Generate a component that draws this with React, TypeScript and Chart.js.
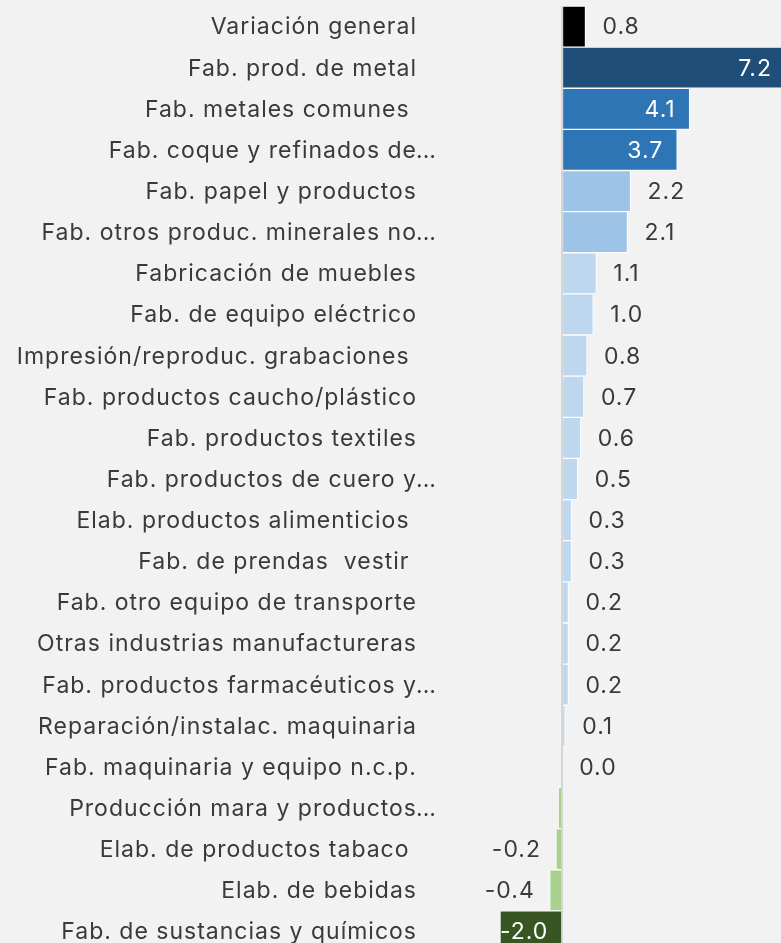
import React, { useEffect, useRef } from 'react';
import { Chart, registerables } from 'chart.js';

Chart.register(...registerables);

const categories: string[] = [
  'Variación general',
  'Fab. prod. de metal',
  'Fab. metales comunes ',
  'Fab. coque y refinados de...',
  'Fab. papel y productos',
  'Fab. otros produc. minerales no...',
  'Fabricación de muebles',
  'Fab. de equipo eléctrico',
  'Impresión/reproduc. grabaciones ',
  'Fab. productos caucho/plástico',
  'Fab. productos textiles',
  'Fab. productos de cuero y...',
  'Elab. productos alimenticios ',
  'Fab. de prendas  vestir ',
  'Fab. otro equipo de transporte',
  'Otras industrias manufactureras',
  'Fab. productos farmacéuticos y...',
  'Reparación/instalac. maquinaria',
  'Fab. maquinaria y equipo n.c.p.',
  'Producción mara y productos...',
  'Elab. de productos tabaco ',
  'Elab. de bebidas',
  'Fab. de sustancias y químicos',
];

const values: number[] = [
  0.75, 7.2, 4.1, 3.7, 2.2, 2.1, 1.1, 1.0, 0.8, 0.7, 0.6, 0.5, 0.3, 0.3, 0.2, 0.2, 0.2, 0.1, 0.0, -0.13, -0.2, -0.4, -2.0,
];

const valueLabels: string[] = [
  '0.8', '7.2', '4.1', '3.7', '2.2', '2.1', '1.1', '1.0', '0.8', '0.7', '0.6', '0.5', '0.3', '0.3', '0.2', '0.2', '0.2', '0.1', '0.0', '', '-0.2', '-0.4', '-2.0',
];

const barColors: string[] = [
  '#000000', '#1f4e79', '#2e75b6', '#2e75b6', '#9dc3e6', '#9dc3e6',
  '#bdd7ee', '#bdd7ee', '#bdd7ee', '#bdd7ee', '#bdd7ee', '#bdd7ee', '#bdd7ee', '#bdd7ee',
  '#bdd7ee', '#bdd7ee', '#bdd7ee', '#bdd7ee', '#bdd7ee',
  '#a9d18e', '#a9d18e', '#a9d18e', '#375623',
];

const FONT = '23px Inter';
const SPACING = '1px';
const TEXT = '#3a3a3a';

export default function App() {
  const ref = useRef<HTMLCanvasElement>(null);

  useEffect(() => {
    const canvas = ref.current;
    if (!canvas) return;

    const labelPlugin = {
      id: 'customLabels',
      afterDatasetsDraw(chart: any) {
        const ctx = chart.ctx;
        const yScale = chart.scales.y;
        const meta = chart.getDatasetMeta(0);
        const setSpacing = (s: string) => {
          try {
            (ctx as any).letterSpacing = s;
          } catch (e) {
            /* ignore */
          }
        };
        ctx.save();
        ctx.font = FONT;
        ctx.textBaseline = 'middle';
        const labelRight = yScale.right - 83;
        const dy = 1;
        categories.forEach((c, i) => {
          const y = yScale.getPixelForTick(i) + dy;
          ctx.fillStyle = TEXT;
          setSpacing(SPACING);
          if (c.endsWith('...')) {
            ctx.textAlign = 'right';
            ctx.fillText(c.slice(0, -3), labelRight, y);
            setSpacing('0px');
            ctx.textAlign = 'left';
            ctx.fillText('...', labelRight - 1, y);
          } else {
            ctx.textAlign = 'right';
            ctx.fillText(c, labelRight, y);
          }
        });
        setSpacing(SPACING);
        meta.data.forEach((bar: any, i: number) => {
          const txt = valueLabels[i];
          if (!txt) return;
          const v = values[i];
          const props = bar.getProps(['x', 'y'], true);
          const x = props.x;
          const y = props.y + dy;
          const inside = v >= 3 || v <= -1;
          if (inside) {
            ctx.fillStyle = '#ffffff';
            if (v > 0) {
              ctx.textAlign = 'right';
              ctx.fillText(txt, x - 14, y);
            } else {
              ctx.textAlign = 'left';
              ctx.fillText(txt, x, y);
            }
          } else {
            ctx.fillStyle = TEXT;
            if (v >= 0) {
              ctx.textAlign = 'left';
              ctx.fillText(txt, x + 17, y);
            } else {
              ctx.textAlign = 'right';
              ctx.fillText(txt, x - 15, y);
            }
          }
        });
        ctx.restore();
      },
    };

    const chart = new Chart(canvas, {
      type: 'bar',
      data: {
        labels: categories,
        datasets: [
          {
            data: values,
            backgroundColor: barColors,
            borderColor: '#ffffff',
            borderWidth: 1,
            barPercentage: 1,
            categoryPercentage: 1,
          },
        ],
      },
      options: {
        indexAxis: 'y',
        responsive: false,
        animation: false,
        devicePixelRatio: 1,
        layout: { padding: { top: 6, left: 0, right: 0, bottom: 0 } },
        plugins: {
          legend: { display: false },
          tooltip: { enabled: false },
        },
        scales: {
          x: {
            min: -2,
            max: 7.2,
            ticks: { display: false, stepSize: 1 },
            border: { display: false },
            grid: {
              drawTicks: false,
              lineWidth: 2,
              color: (c: any) => (c.tick && c.tick.value === 0 ? '#d6d6d6' : 'rgba(0,0,0,0)'),
            },
            afterFit: (s: any) => {
              s.height = 0;
            },
          },
          y: {
            ticks: { display: false },
            grid: { display: false },
            border: { display: false },
            afterFit: (s: any) => {
              s.width = 500;
            },
          },
        },
      },
      plugins: [labelPlugin],
    });

    return () => {
      chart.destroy();
    };
  }, []);

  return (
    <div
      style={{
        position: 'absolute',
        left: 0,
        top: 0,
        width: 781,
        height: 943,
        overflow: 'hidden',
        background: '#f2f2f2',
      }}
    >
      <canvas ref={ref} width={786} height={952} style={{ display: 'block' }} />
    </div>
  );
}
